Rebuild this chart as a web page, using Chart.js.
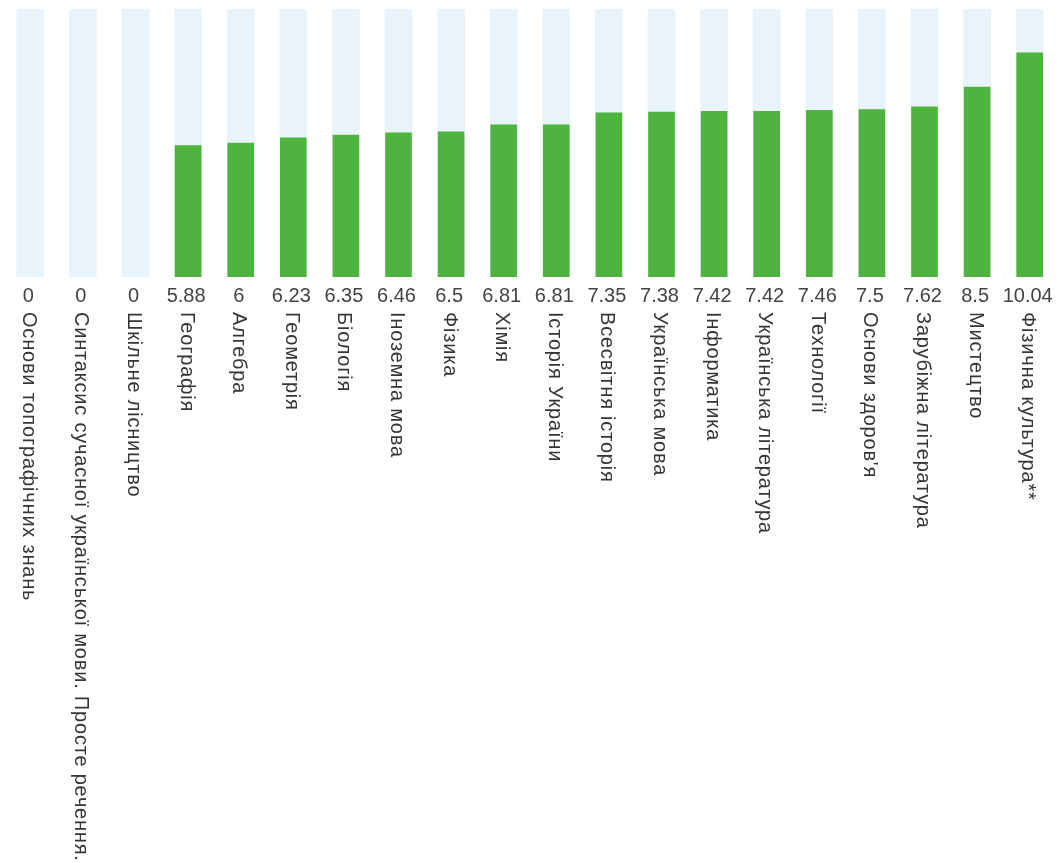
<!DOCTYPE html>
<html>
<head>
<meta charset="utf-8">
<script src="https://cdn.jsdelivr.net/npm/chart.js@4/dist/chart.umd.min.js"></script>
<style>
  html, body { margin: 0; padding: 0; background: #ffffff; }
  #wrap { width: 1060px; height: 863px; position: relative; }
</style>
</head>
<body>
<div id="wrap"><canvas id="c" width="1060" height="863"></canvas></div>
<script>
const categories = [
  "Основи топографічних знань",
  "Синтаксис сучасної української мови. Просте речення.",
  "Шкільне лісництво",
  "Географія",
  "Алгебра",
  "Геометрія",
  "Біологія",
  "Іноземна мова",
  "Фізика",
  "Хімія",
  "Історія України",
  "Всесвітня історія",
  "Українська мова",
  "Інформатика",
  "Українська література",
  "Технології",
  "Основи здоров'я",
  "Зарубіжна література",
  "Мистецтво",
  "Фізична культура**"
];
const values = [0, 0, 0, 5.88, 6, 6.23, 6.35, 6.46, 6.5, 6.81, 6.81, 7.35, 7.38, 7.42, 7.42, 7.46, 7.5, 7.62, 8.5, 10.04];
const valueLabels = ["0", "0", "0", "5.88", "6", "6.23", "6.35", "6.46", "6.5", "6.81", "6.81", "7.35", "7.38", "7.42", "7.42", "7.46", "7.5", "7.62", "8.5", "10.04"];
const scaleMax = 12;
const track = categories.map(() => scaleMax);

const labelPlugin = {
  id: 'labelPlugin',
  afterDraw(chart) {
    const ctx = chart.ctx;
    const xs = chart.scales.x;
    const bottom = chart.chartArea.bottom;
    ctx.save();
    ctx.fillStyle = '#444444';
    ctx.font = '20px "Liberation Sans", Arial, sans-serif';
    ctx.textAlign = 'center';
    ctx.textBaseline = 'middle';
    valueLabels.forEach((t, i) => {
      ctx.fillText(t, xs.getPixelForValue(i) - 2, bottom + 19);
    });
    ctx.font = '20px "Liberation Sans", Arial, sans-serif';
    ctx.fillStyle = '#363636';
    if ('letterSpacing' in ctx) ctx.letterSpacing = '0.8px';
    categories.forEach((t, i) => {
      ctx.save();
      ctx.translate(xs.getPixelForValue(i) - 2, bottom + 35);
      ctx.rotate(Math.PI / 2);
      ctx.textAlign = 'left';
      ctx.textBaseline = 'middle';
      ctx.fillText(t, 0, 0);
      ctx.restore();
    });
    ctx.restore();
  }
};

new Chart(document.getElementById('c'), {
  type: 'bar',
  data: {
    labels: categories,
    datasets: [
      {
        data: values,
        backgroundColor: (c) => (c.raw === 0 ? 'rgba(0,0,0,0)' : '#4fb43f'),
        barThickness: 26,
        grouped: false,
        order: 1
      },
      {
        data: track,
        backgroundColor: '#e8f3fc',
        barThickness: 27,
        grouped: false,
        order: 2
      }
    ]
  },
  options: {
    responsive: false,
    animation: false,
    events: [],
    layout: { padding: { left: 4, right: 4, top: 9, bottom: 586 } },
    plugins: { legend: { display: false }, tooltip: { enabled: false } },
    scales: {
      x: { display: false, offset: true, grid: { display: false } },
      y: { display: false, min: 0, max: scaleMax }
    }
  },
  plugins: [labelPlugin]
});
</script>
</body>
</html>
